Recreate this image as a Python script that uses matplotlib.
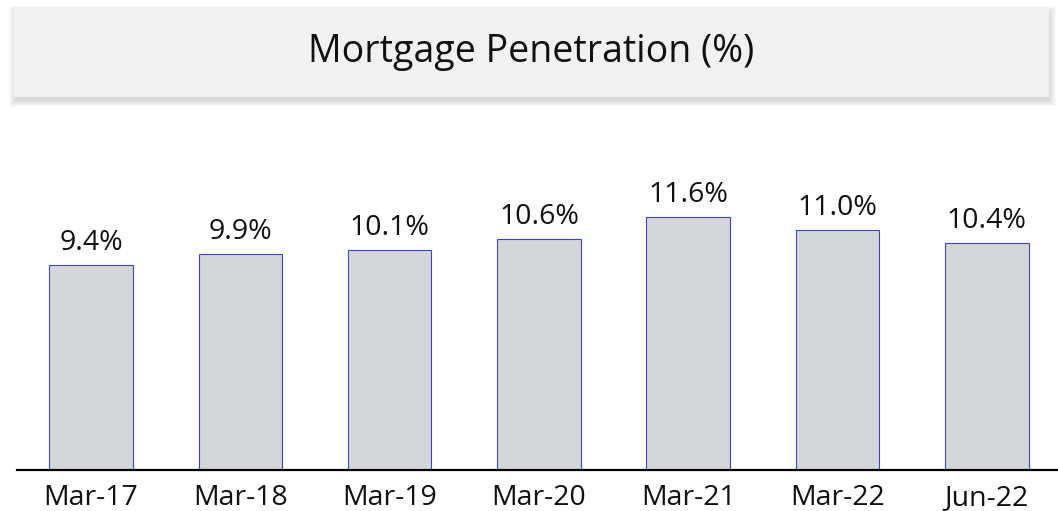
import matplotlib
matplotlib.use('Agg')
import matplotlib.pyplot as plt
from matplotlib.patches import Rectangle

# data
periods = ['Mar-17', 'Mar-18', 'Mar-19', 'Mar-20', 'Mar-21', 'Mar-22', 'Jun-22']
penetration = [9.4, 9.9, 10.1, 10.6, 11.6, 11.0, 10.4]
labels = ['9.4%', '9.9%', '10.1%', '10.6%', '11.6%', '11.0%', '10.4%']

W, H = 1058, 511
fig = plt.figure(figsize=(W/100, H/100), dpi=100)
plt.rcParams['font.family'] = ['Open Sans', 'DejaVu Sans']

def px(x0, y0, x1, y1):
    # pixel box (top-left origin) -> figure fraction rect
    return (x0/W, 1 - y1/H, (x1 - x0)/W, (y1 - y0)/H)

# title box with soft shadow (stacked faint rects)
for g in range(8, 0, -1):
    x, y, w, h = px(14 - g + 3, 6 + 8 - g, 1049 + g - 1, 97 + g + 2)
    fig.add_artist(Rectangle((x, y), w, h, transform=fig.transFigure,
                             facecolor='black', edgecolor='none', alpha=0.018))
x, y, w, h = px(14, 6, 1049, 97)
fig.add_artist(Rectangle((x, y), w, h, transform=fig.transFigure,
                         facecolor='#F1F1F1', edgecolor='none'))
fig.text((14 + 1049)/2/W, 1 - 52/H, 'Mortgage Penetration (%)',
         ha='center', va='center', fontsize=27, color='#111111')

# bars
ax = fig.add_axes([17/W, 41/H, (W - 17)/W, 283.4/H])
xs = list(range(len(periods)))
ax.bar(xs, penetration, width=0.56, color='#D5D6DA', edgecolor='#3B46B8', linewidth=0.8)
for xi, v, lab in zip(xs, penetration, labels):
    ax.annotate(lab, (xi, v), xytext=(0, 11), textcoords='offset points',
                ha='center', va='baseline', fontsize=20.5, color='#111111')

ax.set_xlim(-0.496, 6.477)
ax.set_ylim(0, 13)
ax.set_xticks(xs)
ax.set_xticklabels(periods, fontsize=20.5, color='#111111')
ax.tick_params(axis='x', length=0, pad=10)
ax.set_yticks([])
for s in ['top', 'right', 'left']:
    ax.spines[s].set_visible(False)
ax.spines['bottom'].set_linewidth(1.6)
ax.spines['bottom'].set_color('black')
ax.patch.set_alpha(0)

fig.savefig('out.png', dpi=100)
